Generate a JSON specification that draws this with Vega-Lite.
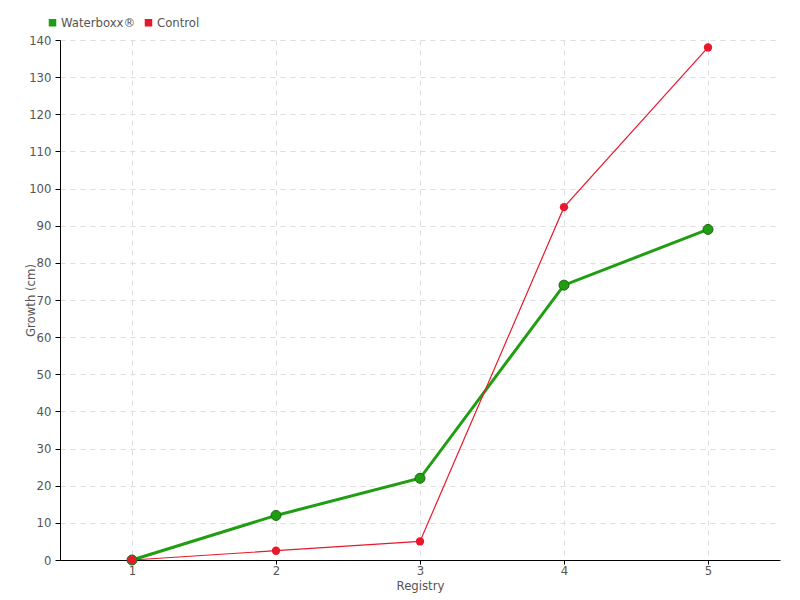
{
  "$schema": "https://vega.github.io/schema/vega-lite/v6.json",
  "autosize": {"type": "none"},
  "width": 720,
  "height": 520,
  "padding": {"left": 60, "top": 40, "right": 20, "bottom": 40},
  "background": "white",
  "config": {
    "view": {"stroke": null},
    "font": "DejaVu Sans Condensed, Roboto Condensed, Roboto, sans-serif",
    "axis": {
      "labelFont": "DejaVu Sans Condensed, Roboto Condensed, Roboto, sans-serif",
      "titleFont": "DejaVu Sans Condensed, Roboto Condensed, Roboto, sans-serif",
      "labelFontSize": 13,
      "titleFontSize": 13,
      "labelColor": "#555555",
      "titleColor": "#555555",
      "titleFontWeight": "normal",
      "domainColor": "#000000",
      "tickColor": "#000000",
      "gridColor": "#dddddd",
      "gridDash": [5, 5],
      "gridWidth": 1
    },
    "legend": {
      "labelFont": "DejaVu Sans Condensed, Roboto Condensed, Roboto, sans-serif",
      "labelFontSize": 13,
      "labelColor": "#555555"
    }
  },
  "data": {
    "values": [
      {"registry": 1, "growth": 0, "series": "Waterboxx®"},
      {"registry": 2, "growth": 12, "series": "Waterboxx®"},
      {"registry": 3, "growth": 22, "series": "Waterboxx®"},
      {"registry": 4, "growth": 74, "series": "Waterboxx®"},
      {"registry": 5, "growth": 89, "series": "Waterboxx®"},
      {"registry": 1, "growth": 0, "series": "Control"},
      {"registry": 2, "growth": 2.5, "series": "Control"},
      {"registry": 3, "growth": 5, "series": "Control"},
      {"registry": 4, "growth": 95, "series": "Control"},
      {"registry": 5, "growth": 138, "series": "Control"}
    ]
  },
  "encoding": {
    "x": {
      "field": "registry",
      "type": "quantitative",
      "scale": {"domain": [0.5, 5.5], "nice": false, "zero": false},
      "axis": {"values": [1, 2, 3, 4, 5], "title": "Registry", "titlePadding": 2, "labelPadding": 0, "tickSize": 4}
    },
    "y": {
      "field": "growth",
      "type": "quantitative",
      "scale": {"domain": [0, 140], "nice": false},
      "axis": {"values": [0,10,20,30,40,50,60,70,80,90,100,110,120,130,140], "title": "Growth (cm)", "titleX": -23, "titleY": 260, "titleAlign": "center", "titleBaseline": "bottom", "tickSize": 5, "labelPadding": 4}
    },
    "color": {
      "field": "series",
      "type": "nominal",
      "scale": {"domain": ["Waterboxx®", "Control"], "range": ["#1f9e12", "#e8192c"]},
      "legend": {
        "title": null,
        "orient": "none",
        "legendX": -14,
        "legendY": -24,
        "direction": "horizontal",
        "symbolType": "square",
        "symbolSize": 36,
        "symbolOffset": 0,
        "columnPadding": 6,
        "labelOffset": 2
      }
    }
  },
  "layer": [
    {
      "transform": [{"filter": "datum.series === 'Waterboxx®'"}],
      "mark": {"type": "line", "strokeWidth": 3}
    },
    {
      "transform": [{"filter": "datum.series === 'Waterboxx®'"}],
      "mark": {"type": "point", "filled": true, "size": 100, "stroke": "#1a6a10", "strokeWidth": 1, "opacity": 1}
    },
    {
      "transform": [{"filter": "datum.series === 'Control'"}],
      "mark": {"type": "line", "strokeWidth": 1.2, "color": "#ff3a4a"}
    },
    {
      "transform": [{"filter": "datum.series === 'Control'"}],
      "mark": {"type": "point", "filled": true, "size": 70, "opacity": 1}
    }
  ]
}
